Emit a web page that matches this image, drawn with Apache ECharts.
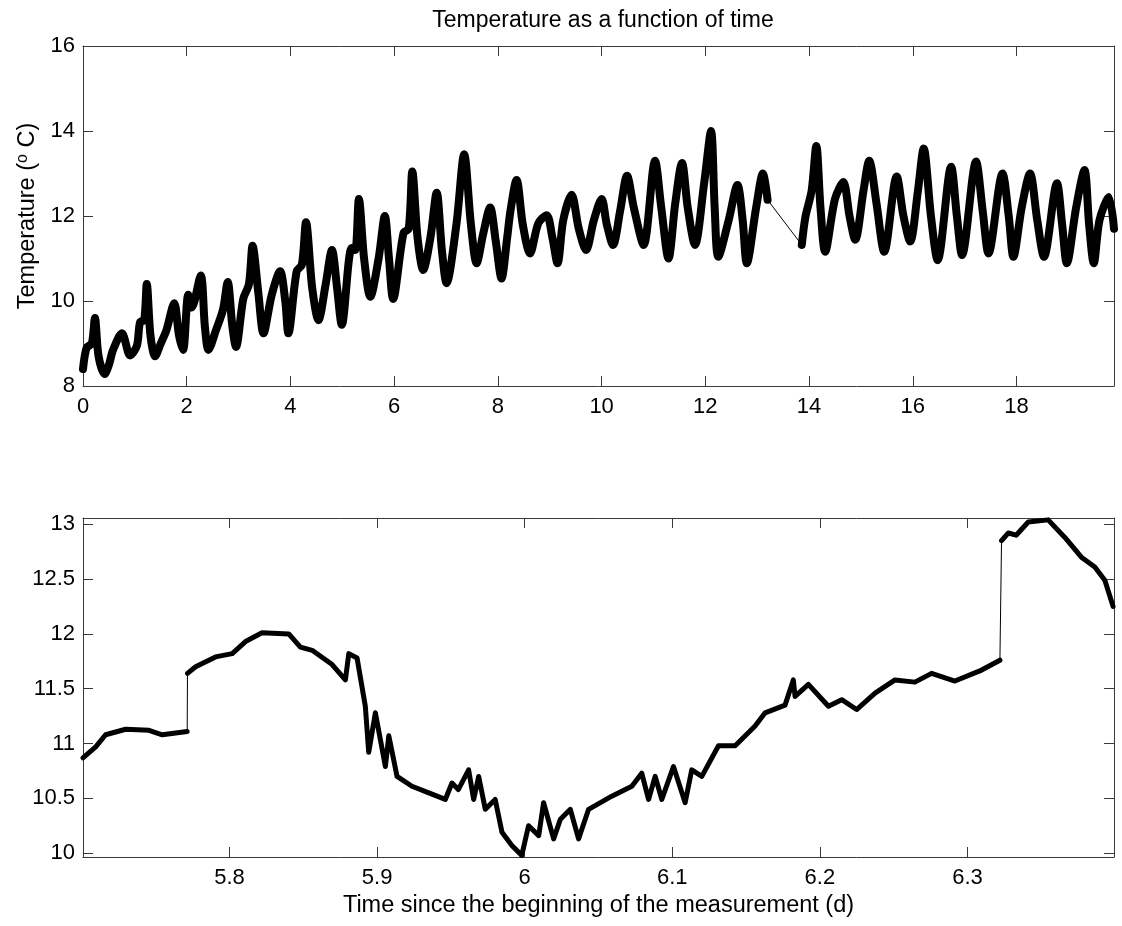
<!DOCTYPE html>
<html>
<head>
<meta charset="utf-8">
<script src="https://cdn.jsdelivr.net/npm/echarts@6/dist/echarts.min.js"></script>
<style>
html,body{margin:0;padding:0;background:#fff;}
#chart{width:1122px;height:926px;}
</style>
</head>
<body>
<div id="chart"></div>
<script>
// ---- Data ----
const chartTitle = 'Temperature as a function of time';
const xAxisTitle = 'Time since the beginning of the measurement (d)';

// Top panel: whole 20-day record (time in days, temperature in °C)
const topTime = [
0.00,0.07,0.17,0.23,0.30,0.42,0.50,0.58,0.75,0.91,1.04,1.10,1.18,1.23,1.30,1.39,1.50,1.61,1.76,1.85,
1.93,2.03,2.10,2.27,2.35,2.42,2.56,2.70,2.79,2.88,2.95,3.09,3.20,3.27,3.38,3.48,3.64,3.80,3.90,3.96,
4.12,4.22,4.30,4.42,4.54,4.68,4.80,4.90,4.99,5.18,5.25,5.32,5.42,5.54,5.70,5.82,5.90,5.98,6.18,6.28,
6.35,6.45,6.56,6.70,6.82,6.92,7.01,7.20,7.35,7.48,7.59,7.72,7.85,7.96,8.07,8.18,8.24,8.36,8.48,8.62,
8.78,8.94,9.05,9.15,9.26,9.42,9.56,9.70,9.85,10.00,10.10,10.22,10.36,10.49,10.62,10.81,11.03,11.15,11.29,11.42,
11.55,11.66,11.80,11.98,12.11,12.18,12.25,12.45,12.62,12.72,12.80,12.98,13.11,13.20,
13.86,13.93,14.05,14.14,14.22,14.31,14.50,14.66,14.78,14.89,15.05,15.16,15.30,15.45,15.69,15.82,15.95,16.10,16.21,16.35,
16.48,16.74,16.85,16.95,17.22,17.35,17.46,17.73,17.85,17.94,18.10,18.26,18.40,18.53,18.78,18.88,18.97,19.15,19.31,19.40,
19.49,19.60,19.78,19.88
];
const topTemp = [
8.40,8.90,9.00,9.60,8.70,8.28,8.50,8.85,9.24,8.72,8.95,9.50,9.55,10.40,9.20,8.70,9.00,9.32,9.95,9.20,
8.85,10.15,9.85,10.60,9.40,8.85,9.30,9.80,10.45,9.40,8.92,10.05,10.40,11.30,10.20,9.24,10.15,10.70,10.00,9.24,
10.70,10.85,11.85,10.30,9.55,10.40,11.20,10.30,9.44,11.25,11.20,12.40,11.00,10.10,11.00,12.00,11.00,10.05,11.60,11.70,
13.05,11.50,10.73,11.50,12.55,11.20,10.42,11.80,13.45,11.80,10.89,11.60,12.20,11.40,10.53,11.50,12.10,12.85,11.80,11.12,
11.83,12.02,11.50,10.89,11.90,12.50,11.70,11.20,11.90,12.40,11.80,11.32,12.14,12.95,12.20,11.32,13.30,12.20,11.00,12.30,
13.25,12.20,11.32,12.80,14.00,12.20,11.04,11.90,12.73,11.90,10.89,12.20,13.00,12.38,
11.32,11.98,12.60,13.65,12.20,11.16,12.40,12.80,12.00,11.44,12.60,13.30,12.30,11.16,12.93,12.00,11.40,12.60,13.59,12.00,
10.96,13.16,12.00,11.08,13.28,12.10,11.12,13.00,12.00,11.04,12.20,13.00,11.90,11.04,12.77,11.80,10.89,12.20,13.08,11.80,
10.89,11.90,12.45,11.70
];

// Bottom panel: zoom on days 5.7 - 6.4
const bottomTime = [
5.7007,5.7093,5.7160,5.7296,5.7454,5.7544,5.7713,5.7715,5.7770,5.7905,5.8018,5.8108,5.8220,5.8401,5.8480,5.8560,5.8695,5.8785,5.8808,5.8864,
5.8920,5.8943,5.8988,5.9056,5.9079,5.9135,5.9236,5.9350,5.9462,5.9507,5.9550,5.9620,5.9654,5.9688,5.9733,5.9800,5.9846,5.9913,5.9980,6.0026,
6.0095,6.0128,6.0196,6.0242,6.0309,6.0365,6.0433,6.0590,6.0726,6.0793,6.0839,6.0884,6.0929,6.1008,6.1087,6.1132,6.1200,6.1313,6.1426,6.1561,
6.1629,6.1764,6.1820,6.1832,6.1922,6.2058,6.2148,6.2249,6.2374,6.2509,6.2644,6.2757,6.2915,6.3096,6.3220,6.3231,6.3276,6.3330,6.3412,6.3547,
6.3660,6.3772,6.3863,6.3931,6.3987
];
const bottomTemp = [
10.87,10.97,11.08,11.13,11.12,11.08,11.11,11.64,11.70,11.79,11.82,11.93,12.01,12.00,11.88,11.85,11.72,11.58,11.82,11.78,
11.34,10.92,11.28,10.79,11.07,10.70,10.61,10.55,10.49,10.64,10.58,10.76,10.49,10.70,10.40,10.49,10.19,10.07,9.98,10.25,
10.16,10.46,10.13,10.31,10.40,10.13,10.40,10.52,10.61,10.73,10.49,10.70,10.49,10.79,10.46,10.76,10.70,10.98,10.98,11.16,
11.28,11.35,11.58,11.43,11.54,11.34,11.40,11.31,11.46,11.58,11.56,11.64,11.57,11.67,11.76,12.85,12.92,12.90,13.02,13.04,
12.88,12.70,12.61,12.49,12.25
];

// Tick values
const topXTicks = [0, 2, 4, 6, 8, 10, 12, 14, 16, 18];
const topYTicks = [8, 10, 12, 14, 16];
const bottomXTicks = [5.8, 5.9, 6, 6.1, 6.2, 6.3];
const bottomYTicks = [10, 10.5, 11, 11.5, 12, 12.5, 13];

// ---- Build series data ----
function isBreak(xs, ys, i, maxDt, maxRise) {
  return i > 0 && (xs[i] - xs[i - 1] > maxDt || ys[i] - ys[i - 1] > maxRise);
}
// thick band: interrupted where the record has a gap (large time step) or a sudden upward jump
function broken(xs, ys, maxDt, maxRise) {
  const out = [];
  for (let i = 0; i < xs.length; i++) {
    if (isBreak(xs, ys, i, maxDt, maxRise)) out.push([null, null]);
    out.push([xs[i], ys[i]]);
  }
  return out;
}
// thin straight links across those gaps / jumps
function links(xs, ys, maxDt, maxRise) {
  const out = [];
  for (let i = 0; i < xs.length; i++) {
    if (isBreak(xs, ys, i, maxDt, maxRise)) {
      if (out.length) out.push([null, null]);
      out.push([xs[i - 1], ys[i - 1]], [xs[i], ys[i]]);
    }
  }
  return out;
}

const FONT = '"Liberation Sans", Arial, sans-serif';
const AX = '#3a3a3a';
const tickStyle = { show: true, inside: true, length: 10, lineStyle: { color: AX, width: 1 } };

function xAx(grid, min, max, ticks, pos, showLabels) {
  return {
    type: 'value', gridIndex: grid, min: min, max: max, position: pos,
    axisLine: { show: true, onZero: false, lineStyle: { color: AX, width: 1 } },
    axisTick: Object.assign({ customValues: ticks }, tickStyle),
    axisLabel: { show: showLabels, customValues: ticks, color: '#000', fontFamily: FONT, fontSize: 22, margin: 10,
                 formatter: v => String(Math.round(v * 100) / 100) },
    splitLine: { show: false }
  };
}
function yAx(grid, min, max, ticks, pos, showLabels) {
  return {
    type: 'value', gridIndex: grid, min: min, max: max, position: pos,
    axisLine: { show: true, onZero: false, lineStyle: { color: AX, width: 1 } },
    axisTick: Object.assign({ customValues: ticks }, tickStyle),
    axisLabel: { show: showLabels, customValues: ticks, color: '#000', fontFamily: FONT, fontSize: 22, margin: 8,
                 formatter: v => String(Math.round(v * 100) / 100) },
    splitLine: { show: false }
  };
}

const xAxes = [
  xAx(0, 0, 19.88, topXTicks, 'bottom', true),
  xAx(0, 0, 19.88, topXTicks, 'top', false),
  xAx(1, 5.7007, 6.3993, bottomXTicks, 'bottom', true),
  xAx(1, 5.7007, 6.3993, bottomXTicks, 'top', false)
];
xAxes[2].name = xAxisTitle;
xAxes[2].nameLocation = 'middle';
xAxes[2].nameGap = 37;
xAxes[2].nameTextStyle = { color: '#000', fontFamily: FONT, fontSize: 23.5 };

const yAxes = [
  yAx(0, 8, 16, topYTicks, 'left', true),
  yAx(0, 8, 16, topYTicks, 'right', false),
  yAx(1, 9.965, 13.057, bottomYTicks, 'left', true),
  yAx(1, 9.965, 13.057, bottomYTicks, 'right', false)
];
yAxes[0].name = 'Temperature ({sup|o} C)';
yAxes[0].nameLocation = 'middle';
yAxes[0].nameGap = 41;
yAxes[0].nameTextStyle = { color: '#000', fontFamily: FONT, fontSize: 23.5,
  rich: { sup: { fontFamily: FONT, fontSize: 16, color: '#000', verticalAlign: 'top', padding: [0, 0, 10, 0] } } };

const option = {
  animation: false,
  backgroundColor: '#fff',
  title: {
    text: chartTitle, left: 598, top: 4, textAlign: 'center',
    textStyle: { color: '#000', fontFamily: FONT, fontSize: 23, fontWeight: 'normal' }
  },
  grid: [
    { left: 83, top: 46, width: 1031, height: 340 },
    { left: 83, top: 518, width: 1031, height: 339 }
  ],
  xAxis: xAxes,
  yAxis: yAxes,
  series: [
    { type: 'line', xAxisIndex: 0, yAxisIndex: 0, data: links(topTime, topTemp, 0.4, 99), symbol: 'none',
      connectNulls: false, lineStyle: { color: '#000', width: 1 }, z: 2 },
    { type: 'line', xAxisIndex: 0, yAxisIndex: 0, data: broken(topTime, topTemp, 0.4, 99), symbol: 'none', smooth: 0.3,
      connectNulls: false, lineStyle: { color: '#000', width: 8, join: 'round', cap: 'round' }, z: 3 },
    { type: 'line', xAxisIndex: 2, yAxisIndex: 2, data: links(bottomTime, bottomTemp, 0.05, 0.45), symbol: 'none',
      connectNulls: false, lineStyle: { color: '#000', width: 1 }, z: 2 },
    { type: 'line', xAxisIndex: 2, yAxisIndex: 2, data: broken(bottomTime, bottomTemp, 0.05, 0.45), symbol: 'none',
      connectNulls: false, lineStyle: { color: '#000', width: 5, join: 'round', cap: 'round' }, z: 3 }
  ]
};

const chart = echarts.init(document.getElementById('chart'), null, { renderer: 'canvas' });
chart.setOption(option);
</script>
</body>
</html>
